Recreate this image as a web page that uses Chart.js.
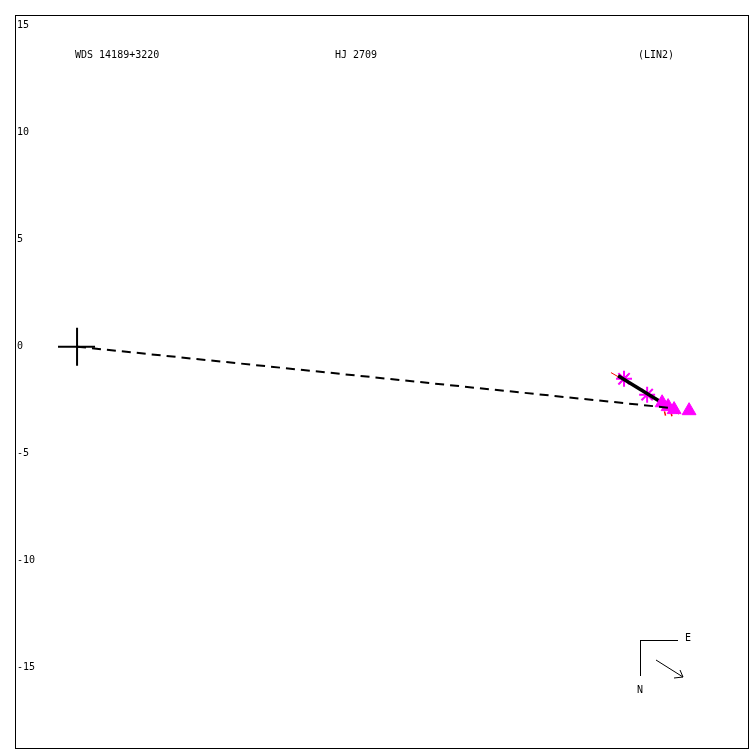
<!DOCTYPE html>
<html>
<head>
<meta charset="utf-8">
<script src="https://cdn.jsdelivr.net/npm/chart.js@4/dist/chart.umd.min.js"></script>
<style>
html,body{margin:0;padding:0;background:#fff;}
#wrap{width:750px;height:750px;}
</style>
</head>
<body>
<div id="wrap"><canvas id="c" width="750" height="750"></canvas></div>
<script>
// ---- data (arcseconds, relative to primary) ----
const yTicks = [15, 10, 5, 0, -5, -10, -15];
const xRange = [-2.9, 31.4];
const yRange = [-18.8, 15.5];
const titleWds = "WDS 14189+3220";
const titleName = "HJ 2709";
const titleRef = "(LIN2)";
const starX = [25.56, 26.64];
const starY = [-1.50, -2.24];
const firstX = [25.56];
const firstY = [-1.50];
const triX = [27.34, 27.62, 27.90, 28.60];
const triY = [-2.62, -2.80, -2.94, -2.99];
const fitX = [25.28, 28.08];
const fitY = [-1.36, -3.08];
const orbitX = [24.95, 25.28];
const orbitY = [-1.21, -1.40];
const residX = [27.45, 27.50, null, 27.75, 27.80, null, 28.02, 28.12];
const residY = [-3.02, -3.22, null, -3.05, -3.25, null, -3.00, -3.15];
const dashX = [0, 27.62];
const dashY = [0, -2.85];
const crossHX = [-0.89, 0.84];
const crossHY = [0, 0];
const crossVX = [0, 0];
const crossVY = [0.89, -0.89];

function pts(xs, ys) { return xs.map((x, i) => (x === null ? {x: null, y: null} : {x: x, y: ys[i]})); }

const frame = {
  id: 'frame',
  afterDraw(chart) {
    const {ctx, chartArea: a} = chart;
    ctx.save();
    ctx.strokeStyle = '#000';
    ctx.lineWidth = 1;
    ctx.strokeRect(a.left + 0.5, a.top + 0.5, a.right - a.left - 1, a.bottom - a.top - 1);
    ctx.font = '10px "DejaVu Sans Mono", monospace';
    ctx.fillStyle = '#000';
    ctx.textBaseline = 'middle';
    ctx.textAlign = 'left';
    ctx.fillText(titleWds, a.left + 60, a.top + 40);
    ctx.fillText(titleName, a.left + 320, a.top + 40);
    ctx.fillText(titleRef, a.left + 623, a.top + 40);
    // compass
    const cx = a.right - 109, cy = a.bottom - 109;
    ctx.beginPath();
    ctx.moveTo(cx + 38, cy + 0.5); ctx.lineTo(cx, cy + 0.5);
    ctx.moveTo(cx + 0.5, cy); ctx.lineTo(cx + 0.5, cy + 36);
    ctx.stroke();
    ctx.fillText('E', cx + 45, cy - 2);
    ctx.fillText('N', cx - 3, cy + 50);
    ctx.beginPath();
    ctx.moveTo(cx + 16, cy + 20); ctx.lineTo(cx + 43, cy + 37);
    ctx.moveTo(cx + 43, cy + 37); ctx.lineTo(cx + 34, cy + 38);
    ctx.moveTo(cx + 43, cy + 37); ctx.lineTo(cx + 40, cy + 30);
    ctx.stroke();
    ctx.restore();
  }
};

new Chart(document.getElementById('c'), {
  type: 'scatter',
  data: {
    datasets: [
      {data: pts(dashX, dashY), showLine: true, borderColor: '#000', borderWidth: 2, borderDash: [9, 6], pointRadius: 0},
      {data: pts(crossHX, crossHY), showLine: true, borderColor: '#000', borderWidth: 2, pointRadius: 0},
      {data: pts(crossVX, crossVY), showLine: true, borderColor: '#000', borderWidth: 2, pointRadius: 0},
      {data: pts(triX, triY), pointStyle: 'triangle', pointRadius: 8, backgroundColor: '#ff00ff', borderColor: '#ff00ff', borderWidth: 1},
      {data: pts(residX, residY), showLine: true, spanGaps: false, borderColor: '#ff0000', borderWidth: 1.5, pointRadius: 0},
      {data: pts(orbitX, orbitY), showLine: true, borderColor: '#ff0000', borderWidth: 1, pointRadius: 0},
      {data: pts(fitX, fitY), showLine: true, borderColor: '#000', borderWidth: 3.5, pointRadius: 0},
      {data: pts(starX, starY), pointStyle: 'star', pointRadius: 8, borderColor: '#ff00ff', backgroundColor: '#ff00ff', borderWidth: 2},
      {data: pts(firstX, firstY), pointStyle: 'crossRot', pointRadius: 6, borderColor: '#000', borderWidth: 1.2}
    ]
  },
  options: {
    responsive: false,
    animation: false,
    layout: {autoPadding: false, padding: {left: 15, top: 15, right: 1, bottom: 1}},
    plugins: {legend: {display: false}, tooltip: {enabled: false}},
    scales: {
      x: {type: 'linear', min: xRange[0], max: xRange[1], display: false},
      y: {
        type: 'linear', min: yRange[0], max: yRange[1],
        afterBuildTicks: (s) => { s.ticks = yTicks.map(v => ({value: v})); },
        afterFit: (s) => { s.width = 0; s.paddingTop = 0; s.paddingBottom = 0; },
        grid: {display: false, drawTicks: false},
        border: {display: false},
        ticks: {mirror: true, padding: 2, color: '#000', font: {family: '"DejaVu Sans Mono", monospace', size: 10}}
      }
    }
  },
  plugins: [frame]
});
</script>
</body>
</html>
